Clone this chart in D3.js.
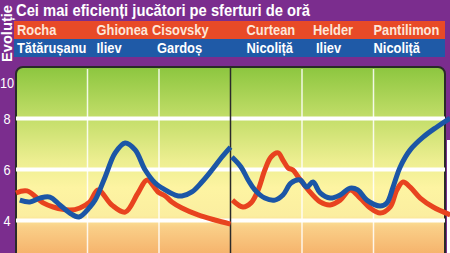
<!DOCTYPE html>
<html>
<head>
<meta charset="utf-8">
<script src="https://cdn.jsdelivr.net/npm/d3@7"></script>
<style>
body{margin:0;background:#7b2d8e;}
svg{display:block;}
</style>
</head>
<body>
<svg id="chart" width="450" height="253"></svg>
<script>
// date: [minut, nota]
var redFirst = [[0,5.06],[2.3,5.14],[5.7,4.67],[7.8,4.51],[11.3,4.39],[13.4,4.47],[15.5,4.71],[17.2,5.18],[20.1,4.59],[22.9,4.31],[25.6,5.06],[27.5,5.57],[29.8,5.10],[31.3,4.94],[32.7,4.71],[34.8,4.47],[38.2,4.20],[41.7,4.0],[45,3.84]];
var blueFirst = [[0.8,4.78],[2.9,4.71],[5.0,4.86],[7.1,4.90],[9.2,4.59],[11.3,4.27],[13.2,4.12],[15.5,4.51],[16.6,4.78],[18.7,5.69],[20.8,6.63],[22.9,7.02],[25.0,6.75],[27.1,5.96],[29.2,5.45],[31.3,5.18],[33.4,4.98],[34.8,4.94],[36.9,5.10],[39.0,5.49],[41.1,5.96],[43.2,6.47],[45,6.86]];
var redSecond = [[45.4,4.78],[47.6,4.51],[49.3,4.67],[50.8,5.18],[52.2,5.96],[53.5,6.47],[55.0,6.63],[56.0,6.35],[57.1,6.04],[58.1,5.96],[59.2,5.69],[61.3,5.18],[63.8,4.71],[65.9,4.59],[68.0,4.78],[70.1,5.18],[72.2,4.86],[74.3,4.47],[76.4,4.27],[78.5,4.51],[79.9,5.18],[81.2,5.49],[82.7,5.29],[84.8,4.86],[87.5,4.51],[91.1,4.20]];
var blueSecond = [[45.3,6.47],[47.2,6.08],[48.7,5.57],[50.1,5.18],[52.2,4.86],[54.3,4.78],[56.0,4.98],[57.7,5.45],[59.6,5.57],[61.0,5.29],[62.3,5.49],[63.8,5.06],[65.9,4.86],[68.0,4.98],[70.1,5.25],[71.7,5.18],[73.6,4.78],[76.4,4.55],[77.8,4.67],[79.1,5.29],[80.6,6.08],[82.7,6.75],[85.4,7.25],[88.3,7.65],[91.1,8.0]];

var quarterStarts = [0, 15, 30, 45, 60, 75];
var redNames = ["Rocha", "Ghionea", "Cisovsky", "Curtean", "Helder", "Pantilimon"];
var blueNames = ["Tătărușanu", "Iliev", "Gardoș", "Nicoliță", "Iliev", "Nicoliță"];
var yTickValues = [4, 6, 8, 10];
var gridValues = [4, 6, 8];
var quarterLines = [15, 30, 60, 75];
var halfTime = 45;

var titlu = "Cei mai eficienți jucători pe sferturi de oră";
var eticheta = "Evoluție";

var _purple = "#7b2d8e";
var _red = "#e8431f";
var _blue = "#1b56a6";
var _redBand = "#e84a27";
var _blueBand = "#1f5aa7";
var _font = "'Liberation Sans', Arial, sans-serif";

// mici ajustari ale numelor fata de inceputul sfertului (px)
var _redNudge = [1, 9, -7, 16, 11, 0];
var _blueNudge = [1, 9, -2, 16, 14, 0];

var svg = d3.select("#chart");

var x = d3.scaleLinear().domain([0, 90]).range([16, 445]);
var y = d3.scaleLinear().domain([4, 8]).range([220, 118]);

var defs = svg.append("defs");
var grad = defs.append("linearGradient")
	.attr("id", "fundal")
	.attr("gradientUnits", "userSpaceOnUse")
	.attr("x1", 0).attr("x2", 0).attr("y1", 67).attr("y2", 253);
[[0, "#8cc63f"], [0.28, "#c4de6a"], [0.5, "#ecee90"], [0.65, "#fdf4a2"], [0.8, "#fbeea0"], [0.86, "#f9cf88"], [1, "#f6b46d"]].forEach(function(s){
	grad.append("stop").attr("offset", s[0]).attr("stop-color", s[1]);
});

svg.append("rect").attr("width", 450).attr("height", 253).attr("fill", _purple);

// benzile cu nume
svg.append("rect").attr("x", 14).attr("y", 21).attr("width", 431).attr("height", 18).attr("fill", _redBand);
svg.append("rect").attr("x", 14).attr("y", 39).attr("width", 431).attr("height", 18).attr("fill", _blueBand);

// titlul
svg.append("text")
	.attr("x", 16).attr("y", 16)
	.attr("fill", "#fff")
	.style("font-family", _font)
	.style("font-weight", "bold")
	.style("font-size", "17px")
	.attr("textLength", 294)
	.attr("lengthAdjust", "spacingAndGlyphs")
	.text(titlu);

// Evolutie, vertical
svg.append("text")
	.attr("transform", "translate(12,62) rotate(-90)")
	.attr("fill", "#fff")
	.style("font-family", _font)
	.style("font-weight", "bold")
	.style("font-size", "14px")
	.attr("textLength", 57)
	.attr("lengthAdjust", "spacingAndGlyphs")
	.text(eticheta);

function numeBanda(names, nudge, yBase, color){
	svg.append("g").selectAll("text")
		.data(names)
		.enter()
		.append("text")
		.attr("x", function(d, i){ return x(quarterStarts[i]) + nudge[i]; })
		.attr("y", yBase)
		.attr("fill", color)
		.style("font-family", _font)
		.style("font-weight", "bold")
		.style("font-size", "14px")
		.text(function(d){ return d; })
		.each(function(){
			var w = this.getComputedTextLength();
			d3.select(this).attr("textLength", w * 0.92).attr("lengthAdjust", "spacingAndGlyphs");
		});
}
numeBanda(redNames, _redNudge, 35, "#fde6d8");
numeBanda(blueNames, _blueNudge, 53, "#ffffff");

// zona graficului
svg.append("rect")
	.attr("x", 16).attr("y", 67)
	.attr("width", 429).attr("height", 220)
	.attr("rx", 7)
	.attr("fill", "url(#fundal)")
	.attr("stroke", "#2a2a2a")
	.attr("stroke-width", 2);

svg.append("rect").attr("x", 447).attr("y", 140).attr("width", 3).attr("height", 113).attr("fill", "#fff");

// linii verticale pe sferturi
svg.append("g").selectAll("line")
	.data(quarterLines)
	.enter()
	.append("line")
	.attr("x1", function(d){ return x(d); })
	.attr("x2", function(d){ return x(d); })
	.attr("y1", 69).attr("y2", 253)
	.attr("stroke", "#fff")
	.attr("stroke-opacity", 0.85)
	.attr("stroke-width", 1.5);

// grila orizontala
var grid = svg.append("g")
	.attr("transform", "translate(16,0)")
	.call(d3.axisLeft(y).tickValues(gridValues).tickSize(-429).tickFormat(""));
grid.select(".domain").remove();
grid.selectAll("line").attr("stroke", "#fff").attr("stroke-width", 4);

// pauza
svg.append("line")
	.attr("x1", x(halfTime)).attr("x2", x(halfTime))
	.attr("y1", 68).attr("y2", 253)
	.attr("stroke", "#2a2a2a")
	.attr("stroke-width", 1.5);

// axa y, doar etichete
var ax = svg.append("g")
	.attr("transform", "translate(16,0)")
	.call(d3.axisLeft(y).tickValues(yTickValues).tickSize(0).tickFormat(d3.format("d")));
ax.select(".domain").remove();
ax.selectAll("text")
	.attr("x", -9)
	.attr("fill", "#fff")
	.style("text-anchor", "middle")
	.style("font-family", _font)
	.style("font-size", "15px")
	.attr("dy", function(d){ return d == 10 ? "1.35em" : "0.35em"; })
	.each(function(){
		var w = this.getComputedTextLength();
		d3.select(this).attr("textLength", w * 0.85).attr("lengthAdjust", "spacingAndGlyphs");
	});

// curbele
var line = d3.line()
	.x(function(d){ return x(d[0]); })
	.y(function(d){ return y(d[1]); })
	.curve(d3.curveCatmullRom.alpha(0.5));

[[redFirst, _red], [redSecond, _red], [blueFirst, _blue], [blueSecond, _blue]].forEach(function(s){
	svg.append("path")
		.datum(s[0])
		.attr("d", line)
		.attr("fill", "none")
		.attr("stroke", s[1])
		.attr("stroke-width", 5)
		.attr("stroke-linejoin", "round");
});
</script>
</body>
</html>
